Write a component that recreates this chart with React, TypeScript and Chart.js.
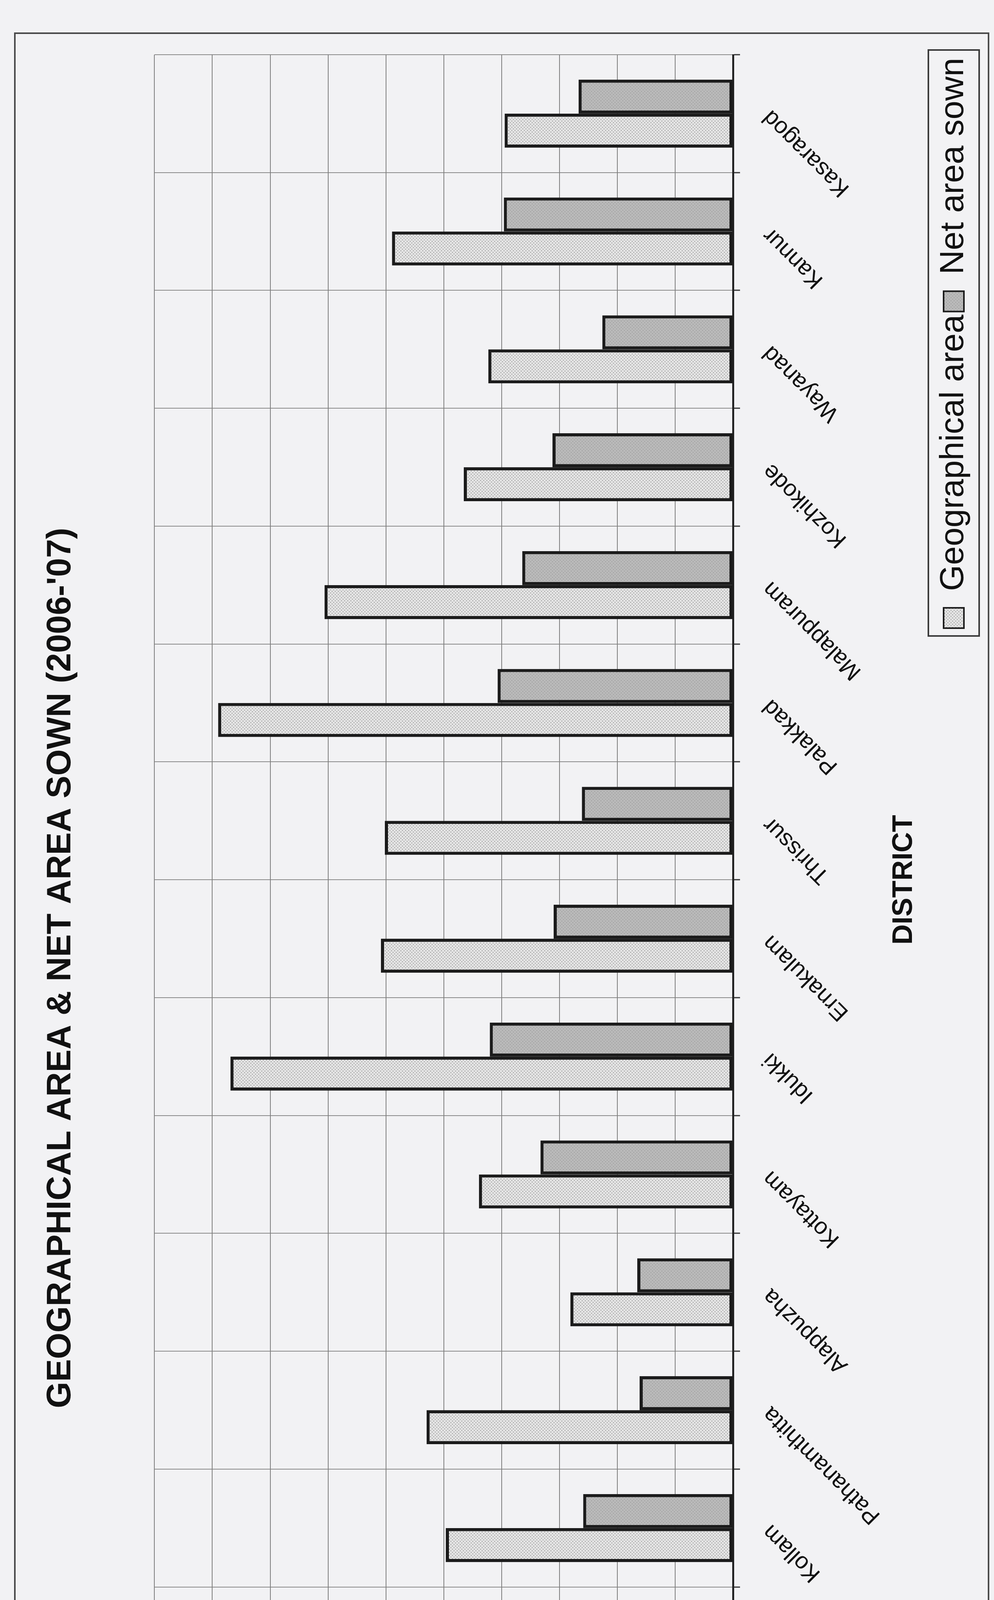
import React, { useEffect, useRef } from "react";
import { Chart, registerables } from "chart.js";

Chart.register(...registerables);

const districts = [
  "Thiruvananthapuram",
  "Kollam",
  "Pathanamthitta",
  "Alappuzha",
  "Kottayam",
  "Idukki",
  "Ernakulam",
  "Thrissur",
  "Palakkad",
  "Malappuram",
  "Kozhikode",
  "Wayanad",
  "Kannur",
  "Kasaragod",
];

const geographicalArea = [
  219200, 248200, 264800, 140600, 219600, 434400, 304300, 300900, 445000,
  353100, 232700, 211500, 294700, 197400,
];

const netAreaSown = [
  143200, 129500, 80700, 82700, 166400, 210200, 155000, 130600, 203500,
  182200, 156000, 113000, 198100, 133500,
];

const valueTicks = [
  0, 50000, 100000, 150000, 200000, 250000, 300000, 350000, 400000, 450000,
  500000,
];

const seriesNames = ["Geographical area", "Net area sown"];
const chartTitle = "GEOGRAPHICAL AREA & NET AREA SOWN (2006-'07)";
const valueAxisTitle = "AREA )ha)";
const categoryAxisTitle = "DISTRICT";

// unrotated chart size (the page shows it turned a quarter turn anticlockwise)
const W = 4964;
const H = 2544;
const FONT = "'Liberation Sans', Arial, Helvetica, sans-serif";
const BG = "#f2f2f4";

function makePattern(
  ctx: CanvasRenderingContext2D,
  bg: string,
  dot: string
): CanvasPattern | string {
  const c = document.createElement("canvas");
  c.width = 8;
  c.height = 8;
  const g = c.getContext("2d");
  if (!g) return bg;
  g.fillStyle = bg;
  g.fillRect(0, 0, 8, 8);
  g.fillStyle = dot;
  g.fillRect(1, 1, 2, 2);
  g.fillRect(5, 5, 2, 2);
  return ctx.createPattern(c, "repeat") || bg;
}

const framePlugin = {
  id: "frame",
  beforeDraw(chart: any) {
    const { ctx, width, height } = chart;
    ctx.save();
    ctx.fillStyle = BG;
    ctx.fillRect(0, 0, width, height);
    ctx.strokeStyle = "#4a4a4a";
    ctx.lineWidth = 4;
    ctx.strokeRect(57, 38, width - 57 - 85, height - 38 - 14);
    ctx.restore();
  },
  afterDraw(chart: any) {
    const lg = chart.legend;
    if (!lg || !lg.legendHitBoxes || !lg.legendHitBoxes.length) return;
    let l = Infinity,
      r = -Infinity,
      t = Infinity,
      b = -Infinity;
    lg.legendHitBoxes.forEach((h: any) => {
      l = Math.min(l, h.left);
      r = Math.max(r, h.left + h.width);
      t = Math.min(t, h.top);
      b = Math.max(b, h.top + h.height);
    });
    const { ctx } = chart;
    ctx.save();
    ctx.strokeStyle = "#3a3a3a";
    ctx.lineWidth = 4;
    ctx.strokeRect(l - 20, t - 22, r - l + 40, b - t + 44);
    ctx.restore();
  },
};

export default function App() {
  const ref = useRef<HTMLCanvasElement>(null);

  useEffect(() => {
    const canvas = ref.current;
    if (!canvas) return;
    const ctx = canvas.getContext("2d");
    if (!ctx) return;
    Chart.defaults.font.family = FONT;

    const geoFill = makePattern(ctx, "#e2e2e2", "#8e8e8e");
    const netFill = makePattern(ctx, "#b9b9b9", "#9a9a9a");

    const chart = new Chart(canvas, {
      type: "bar",
      data: {
        labels: districts,
        datasets: [
          {
            label: seriesNames[0],
            data: geographicalArea,
            backgroundColor: geoFill as any,
            borderColor: "#1b1b1b",
            borderWidth: 8,
            borderSkipped: false,
            categoryPercentage: 0.577,
            barPercentage: 1,
          },
          {
            label: seriesNames[1],
            data: netAreaSown,
            backgroundColor: netFill as any,
            borderColor: "#1b1b1b",
            borderWidth: 8,
            borderSkipped: false,
            categoryPercentage: 0.577,
            barPercentage: 1,
          },
        ],
      },
      options: {
        responsive: false,
        animation: false,
        devicePixelRatio: 1,
        layout: { padding: { left: 148, right: 140, top: 60, bottom: 50 } },
        plugins: {
          title: {
            display: true,
            text: chartTitle,
            color: "#111",
            font: { family: FONT, size: 87, weight: "bold" },
            padding: { top: 44, bottom: 187 },
          },
          legend: {
            position: "bottom",
            align: "end",
            labels: {
              color: "#111",
              font: { family: FONT, size: 86 },
              boxWidth: 52,
              boxHeight: 52,
              padding: 8,
              generateLabels: (c: any) => {
                const items =
                  Chart.defaults.plugins.legend.labels.generateLabels(c);
                items.forEach((it: any) => {
                  it.lineWidth = 4;
                });
                return items;
              },
            },
          },
          tooltip: { enabled: false },
        },
        scales: {
          x: {
            afterFit: (scale: any) => {
              scale.height = 514;
            },
            grid: {
              color: "#8a8a8a",
              lineWidth: 2,
              tickLength: 18,
              offset: true,
              tickColor: "#333",
              tickWidth: 3,
            },
            border: { color: "#222", width: 5 },
            ticks: {
              minRotation: 45,
              maxRotation: 45,
              autoSkip: false,
              padding: 44,
              color: "#111",
              font: { family: FONT, size: 59 },
            },
            title: {
              display: true,
              text: categoryAxisTitle,
              color: "#111",
              font: { family: FONT, size: 72, weight: "bold" },
              padding: { top: 4, bottom: 33 },
            },
          },
          y: {
            min: 0,
            max: 500000,
            afterBuildTicks: (axis: any) => {
              axis.ticks = valueTicks.map((value) => ({ value }));
            },
            grid: {
              color: "#7e7e7e",
              lineWidth: 2,
              tickLength: 15,
              tickColor: "#333",
            },
            border: { color: "#222", width: 4 },
            ticks: {
              padding: 35,
              color: "#111",
              font: { family: FONT, size: 58 },
              callback: (v: any) => String(v),
            },
            title: {
              display: true,
              text: valueAxisTitle,
              color: "#111",
              font: { family: FONT, size: 60, weight: "bold" },
              padding: { top: 4, bottom: 97 },
            },
          },
        },
      },
      plugins: [framePlugin],
    } as any);

    return () => chart.destroy();
  }, []);

  return (
    <div
      style={{
        position: "absolute",
        left: 0,
        top: 0,
        width: H,
        height: W,
        overflow: "hidden",
        background: BG,
      }}
    >
      <div
        style={{
          position: "absolute",
          left: 0,
          top: 0,
          width: W,
          height: H,
          transformOrigin: "0 0",
          transform: `translateY(${W}px) rotate(-90deg)`,
        }}
      >
        <canvas
          ref={ref}
          width={W}
          height={H}
          style={{ display: "block", width: W, height: H }}
        />
      </div>
    </div>
  );
}
